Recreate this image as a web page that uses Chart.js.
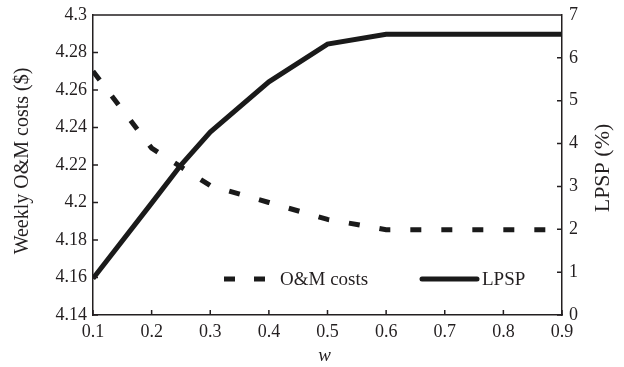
<!DOCTYPE html>
<html>
<head>
<meta charset="utf-8">
<script src="https://cdn.jsdelivr.net/npm/chart.js@4/dist/chart.umd.min.js"></script>
<style>
html,body{margin:0;padding:0;background:#fff;}
#wrap{width:624px;height:367px;}
</style>
</head>
<body>
<div id="wrap"><canvas id="c"></canvas></div>
<script>
// ================= DATA =================
let wValues = [0.1, 0.2, 0.25, 0.3, 0.4, 0.5, 0.6, 0.7, 0.8, 0.9]
let omCosts = [4.27, 4.229, 4.219, 4.209, 4.2, 4.191, 4.1855, 4.1855, 4.1855, 4.1855]
let lpsp    = [0.85, 2.61, 3.5, 4.27, 5.44, 6.32, 6.55, 6.55, 6.55, 6.55]

let leftTitle = "Weekly O&M costs ($)"
let rightTitle = "LPSP (%)"
let xTitle = "w"
let legendLabels = ["O&M costs", "LPSP"]

const INK = "#231f20"
const FONT = "Liberation Serif"

// ================= PLUGIN =================
// inward ticks, top frame, titles, legend inside plot
let extras = {
id:"extras",
afterDraw(chart){
let ctx = chart.ctx
let a = chart.chartArea
let sx = chart.scales.x, sy = chart.scales.y, sy1 = chart.scales.y1
ctx.save()
ctx.strokeStyle = INK
ctx.lineWidth = 1.5
ctx.beginPath()
ctx.moveTo(a.left, a.top); ctx.lineTo(a.right, a.top)
sx.ticks.forEach(t=>{
let p = sx.getPixelForValue(t.value)
ctx.moveTo(p, a.bottom); ctx.lineTo(p, a.bottom-5)
})
sy.ticks.forEach(t=>{
let p = sy.getPixelForValue(t.value)
ctx.moveTo(a.left, p); ctx.lineTo(a.left+5, p)
})
sy1.ticks.forEach(t=>{
let p = sy1.getPixelForValue(t.value)
ctx.moveTo(a.right, p); ctx.lineTo(a.right-5, p)
})
ctx.stroke()

// titles
ctx.fillStyle = INK
ctx.font = "20px '"+FONT+"'"
ctx.textAlign = "center"
ctx.textBaseline = "middle"
ctx.save()
ctx.translate(23, 161)
ctx.rotate(-Math.PI/2)
ctx.fillText(leftTitle, 0, 0)
ctx.restore()
ctx.font = "22px '"+FONT+"'"
ctx.save()
ctx.translate(603, 168)
ctx.rotate(-Math.PI/2)
ctx.fillText(rightTitle, 0, 0)
ctx.restore()
ctx.font = "italic 19px '"+FONT+"'"
ctx.textBaseline = "alphabetic"
ctx.fillText(xTitle, (a.left+a.right)/2-3, 361)

// legend
let ly = 279
ctx.font = "19px '"+FONT+"'"
ctx.textAlign = "left"
ctx.textBaseline = "middle"
ctx.lineWidth = 5
ctx.lineCap = "butt"
ctx.strokeStyle = "#1a1a1a"
ctx.beginPath()
ctx.moveTo(224, ly); ctx.lineTo(235, ly)
ctx.moveTo(254, ly); ctx.lineTo(265, ly)
ctx.stroke()
ctx.fillText(legendLabels[0], 280, ly+1)
ctx.lineCap = "round"
ctx.beginPath()
ctx.moveTo(422, ly); ctx.lineTo(477, ly)
ctx.stroke()
ctx.fillText(legendLabels[1], 482, ly+1)
ctx.restore()
}
}

// ================= CHART =================
function fmt(v, d){ return String(parseFloat(Number(v).toFixed(d))) }

let tickFont = {family:FONT, size:18}

function fitV(w){
return function(s){ s.width = w; s.paddingTop = 0; s.paddingBottom = 0 }
}

new Chart(document.getElementById("c"),{
type:"line",
data:{
datasets:[
{
label:legendLabels[0],
data:wValues.map((w,i)=>({x:w, y:omCosts[i]})),
yAxisID:"y",
borderColor:"#1a1a1a",
borderWidth:5,
borderDash:[11,20],
borderCapStyle:"butt",
pointRadius:0,
tension:0
},
{
label:legendLabels[1],
data:wValues.map((w,i)=>({x:w, y:lpsp[i]})),
yAxisID:"y1",
borderColor:"#1a1a1a",
borderWidth:5,
borderJoinStyle:"miter",
pointRadius:0,
tension:0
}
]
},
options:{
responsive:true,
maintainAspectRatio:false,
animation:false,
layout:{padding:{top:15,left:0,right:0,bottom:0}},
plugins:{legend:{display:false}, tooltip:{enabled:false}},
scales:{
x:{
type:"linear", min:0.1, max:0.9,
afterFit(s){ s.height = 52; s.paddingLeft = 0; s.paddingRight = 0 },
afterBuildTicks(s){ s.ticks = [0.1,0.2,0.3,0.4,0.5,0.6,0.7,0.8,0.9].map(v=>({value:v})) },
ticks:{font:tickFont, color:INK, padding:6, maxRotation:0, callback:v=>fmt(v,1)},
grid:{drawOnChartArea:false, drawTicks:false},
border:{color:INK, width:1.5}
},
y:{
position:"left", min:4.14, max:4.3,
afterFit:fitV(93),
ticks:{font:tickFont, color:INK, padding:6, stepSize:0.02, callback:v=>fmt(v,2)},
grid:{drawOnChartArea:false, drawTicks:false},
border:{color:INK, width:1.5}
},
y1:{
position:"right", min:0, max:7,
afterFit:fitV(62),
ticks:{font:tickFont, color:INK, padding:7, stepSize:1},
grid:{drawOnChartArea:false, drawTicks:false},
border:{color:INK, width:1.5}
}
}
},
plugins:[extras]
})
</script>
</body>
</html>
